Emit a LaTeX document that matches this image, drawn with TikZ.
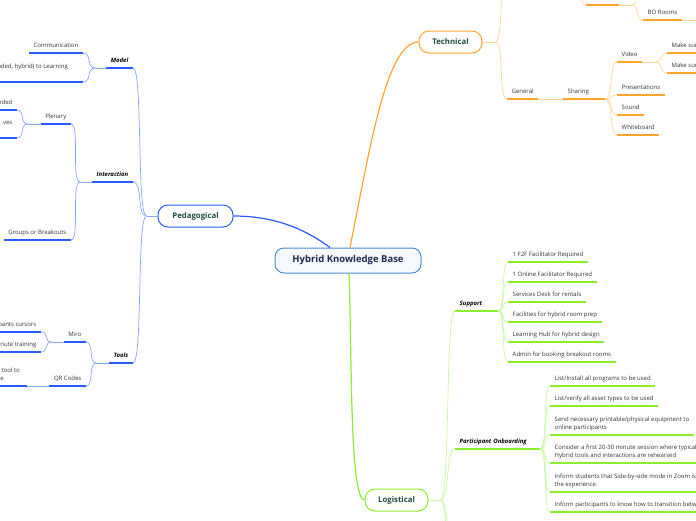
\documentclass[tikz,border=0pt]{standalone}
\usepackage{fontspec}
\setmainfont{Open Sans}
\usetikzlibrary{calc}
\definecolor{pblue}{HTML}{2A5BFF}
\definecolor{plink}{HTML}{8AA6FF}
\definecolor{torange}{HTML}{FFA52C}
\definecolor{tlink}{HTML}{FFD596}
\definecolor{lgreen}{HTML}{8DEE2C}
\definecolor{llink}{HTML}{C9F7A4}
\definecolor{hubline}{HTML}{4A8CD6}
\definecolor{hubfill}{HTML}{F6FAFF}
\definecolor{hubtext}{HTML}{1C2A4E}
\definecolor{maintext}{HTML}{1F4D40}
\definecolor{kidtext}{HTML}{333333}

\tikzset{
  hubnode/.style={draw=hubline, fill=hubfill, line width=1pt, rounded corners=9pt,
    minimum width=146pt, minimum height=25pt,
    font=\fontsize{9.5}{11}\selectfont\bfseries, text=hubtext},
  mainnode/.style={fill=white, line width=1pt, rounded corners=10pt,
    minimum width=#1, minimum height=22pt,
    font=\fontsize{7.8}{9}\selectfont\bfseries, text=maintext},
  topic/.style={inner xsep=4.5pt, inner ysep=3.5pt, text depth=1.5pt,
    font=\fontsize{6}{8.2}\selectfont, text=kidtext, align=left},
  lefttopic/.style={topic, anchor=south east},
  righttopic/.style={topic, anchor=south west},
  branch/.style={font=\fontsize{6}{8.2}\selectfont\bfseries\itshape, text=black},
  hublink/.style={draw=#1, line width=1.2pt},
  pline/.style={draw=pblue, line width=1.4pt},
  pthin/.style={draw=plink, line width=0.7pt},
  tline/.style={draw=torange, line width=1.4pt},
  tthin/.style={draw=tlink, line width=0.7pt},
  lline/.style={draw=lgreen, line width=1.4pt},
  lthin/.style={draw=llink, line width=0.7pt}
}

\begin{document}
\begin{tikzpicture}[x=1pt,y=-1pt]
\useasboundingbox (0,0) rectangle (696,520);

% main topics
\node[hubnode] (hub) at (348,260.5) {Hybrid Knowledge Base};
\node[mainnode=75pt, draw=pblue] (peda) at (195.5,216) {Pedagogical};
\node[mainnode=63pt, draw=torange] (tech) at (450.5,42) {Technical};
\node[mainnode=63pt, draw=lgreen] (logi) at (396.5,500) {Logistical};

\coordinate (hub-p) at ($(hub.north)+(-18,0)$);
\coordinate (hub-t) at ($(hub.north)+(2,0)$);
\coordinate (hub-l) at ($(hub.south)+(1,0)$);
\draw[hublink=pblue] (peda.east) .. controls +(45,0) and +(-22,-16) .. (hub-p);
\draw[hublink=torange] (hub-t) .. controls +(20,-100) and +(-32,0) .. (tech.west);
\draw[hublink=lgreen] (hub-l) .. controls +(3,80) and +(-15,0) .. (logi.west);

% Pedagogical
\node[lefttopic, branch] (model) at (133,68) {Model};
\node[lefttopic] (comm) at (83,53) {Communication};
\node[lefttopic, align=right] (learn) at (83,82) {nded, hybrid) to Learning\hspace*{10.5pt}\\\mbox{}};
\node[lefttopic, branch] (inter) at (133,182) {Interaction};
\node[lefttopic] (plen) at (71,124) {Plenary};
\node[lefttopic] (plen1) at (17,110) {nded};
\node[lefttopic, align=right] (plen2) at (17,138) {ves\\\mbox{}};
\node[lefttopic] (groups) at (71,240) {Groups or Breakouts};
\node[lefttopic, branch] (tools) at (133,363) {Tools};
\node[lefttopic] (miro) at (86,342) {Miro};
\node[lefttopic] (miro1) at (41,332) {pants cursors};
\node[lefttopic] (miro2) at (41,352) {inute training};
\node[lefttopic] (qr) at (86,386) {QR Codes};
\node[lefttopic, align=right] (qr1) at (27,386) {t tool to\hspace*{2.5pt}\\se\hspace*{18.5pt}};

\foreach \n in {model,comm,learn,inter,plen,plen1,plen2,groups,tools,miro,miro1,miro2,qr,qr1}
  \draw[pline] (\n.south west) -- (\n.south east);

\coordinate (peda-f) at ($(peda.west)+(-11,0)$);
\coordinate (model-f) at ($(model.south west)+(-11,0)$);
\coordinate (inter-f) at ($(inter.south west)+(-12,0)$);
\coordinate (plen-f) at ($(plen.south west)+(-13,0)$);
\coordinate (tools-f) at ($(tools.south west)+(-13,0)$);
\coordinate (miro-f) at ($(miro.south west)+(-12,0)$);
\draw[pthin] (peda.west) -- (peda-f);
\draw[pthin] (model.south west) -- (model-f);
\draw[pthin] (inter.south west) -- (inter-f);
\draw[pthin] (plen.south west) -- (plen-f);
\draw[pthin] (tools.south west) -- (tools-f);
\draw[pthin] (miro.south west) -- (miro-f);
\draw[pthin] (qr.south west) -- (qr1.south east);
\foreach \k in {model,inter,tools}
  \draw[pthin] (peda-f) .. controls +(-10,0) and +(10,0) .. (\k.south east);
\foreach \k in {comm,learn}
  \draw[pthin] (model-f) .. controls +(-9,0) and +(9,0) .. (\k.south east);
\foreach \k in {plen,groups}
  \draw[pthin] (inter-f) .. controls +(-9,0) and +(9,0) .. (\k.south east);
\foreach \k in {plen1,plen2}
  \draw[pthin] (plen-f) .. controls +(-8,0) and +(8,0) .. (\k.south east);
\foreach \k in {miro,qr}
  \draw[pthin] (tools-f) .. controls +(-8,0) and +(8,0) .. (\k.south east);
\foreach \k in {miro1,miro2}
  \draw[pthin] (miro-f) .. controls +(-8,0) and +(8,0) .. (\k.south east);

% Technical
\node[righttopic] (general) at (507,99) {General};
\node[righttopic, text width=33pt] (sharing) at (563,99) {Sharing};
\node[righttopic] (video) at (617,62) {Video};
\node[righttopic] (make1) at (667,53) {Make sure};
\node[righttopic] (make2) at (667,73) {Make sure};
\node[righttopic] (pres) at (617,95) {Presentations};
\node[righttopic] (sound) at (617,115) {Sound};
\node[righttopic] (white) at (617,135) {Whiteboard};
\node[righttopic] (bo) at (643,20) {BO Rooms};

\foreach \n in {general,sharing,video,make1,make2,pres,sound,white,bo}
  \draw[tline] (\n.south west) -- (\n.south east);

\coordinate (tech-f) at ($(tech.east)+(13,0)$);
\coordinate (tech-up) at (508,-60);
\coordinate (video-f) at ($(video.south east)+(13,0)$);
\coordinate (stub-in) at (572,-30);
\coordinate (stub-l) at (586,5);
\coordinate (stub-r) at (619,5);
\coordinate (stub-f) at (632,5);
\coordinate (stub-up) at (646,-30);
\coordinate (bo-out) at (700,20);
\draw[tthin] (tech.east) -- (tech-f);
\draw[tthin] (tech-f) .. controls +(9,0) and +(-9,0) .. (general.south west);
\draw[tthin] (tech-f) .. controls +(9,0) and +(-9,0) .. (tech-up);
\draw[tthin] (general.south east) -- (sharing.south west);
\foreach \k in {video,pres,sound,white}
  \draw[tthin] (sharing.south east) .. controls +(8,0) and +(-8,0) .. (\k.south west);
\draw[tthin] (video.south east) -- (video-f);
\foreach \k in {make1,make2}
  \draw[tthin] (video-f) .. controls +(8,0) and +(-8,0) .. (\k.south west);
\draw[tline] (stub-l) -- (stub-r);
\draw[tthin] (stub-in) .. controls +(9,0) and +(-9,0) .. (stub-l);
\draw[tthin] (stub-r) -- (stub-f);
\draw[tthin] (stub-f) .. controls +(8,0) and +(-8,0) .. (stub-up);
\draw[tthin] (stub-f) .. controls +(8,0) and +(-8,0) .. (bo.south west);
\draw[tthin] (bo.south east) -- (bo-out);

% Logistical
\node[righttopic, branch, text width=34pt] (support) at (455,311) {Support};
\node[righttopic] (sup1) at (508,262) {1 F2F Facilitator Required};
\node[righttopic] (sup2) at (508,282) {1 Online Facilitator Required};
\node[righttopic] (sup3) at (508,302) {Services Desk for rentals};
\node[righttopic] (sup4) at (508,322) {Facilities for hybrid room prep};
\node[righttopic] (sup5) at (508,342) {Learning Hub for hybrid design};
\node[righttopic] (sup6) at (508,362) {Admin for booking breakout rooms};
\node[righttopic, branch, text width=76pt] (onb) at (455,449) {Participant Onboarding};
\node[righttopic] (onb1) at (550,386) {List/Install all programs to be used};
\node[righttopic] (onb2) at (550,406) {List/verify all asset types to be used};
\node[righttopic] (onb3) at (550,435) {Send necessary printable/physical equipment to\\online participants};
\node[righttopic] (onb4) at (550,463) {Consider a first 20-30 minute session where typically\\Hybrid tools and interactions are rehearsed};
\node[righttopic] (onb5) at (550,492) {Inform students that Side-by-side mode in Zoom is\\the experience.};
\node[righttopic] (onb6) at (550,512) {Inform participants to know how to transition between};

\foreach \n in {support,sup1,sup2,sup3,sup4,sup5,sup6,onb,onb1,onb2,onb3,onb4,onb5,onb6}
  \draw[lline] (\n.south west) -- (\n.south east);

\coordinate (logi-f) at ($(logi.east)+(12,0)$);
\coordinate (low1) at (455,560);
\coordinate (low2) at (455,640);
\draw[lthin] (logi.east) -- (logi-f);
\foreach \k in {support,onb}
  \draw[lthin] (logi-f) .. controls +(10,0) and +(-10,0) .. (\k.south west);
\foreach \k in {low1,low2}
  \draw[lthin] (logi-f) .. controls +(10,0) and +(-10,0) .. (\k);
\foreach \k in {sup1,sup2,sup3,sup4,sup5,sup6}
  \draw[lthin] (support.south east) .. controls +(7,0) and +(-7,0) .. (\k.south west);
\foreach \k in {onb1,onb2,onb3,onb4,onb5,onb6}
  \draw[lthin] (onb.south east) .. controls +(7,0) and +(-7,0) .. (\k.south west);
\end{tikzpicture}
\end{document}
